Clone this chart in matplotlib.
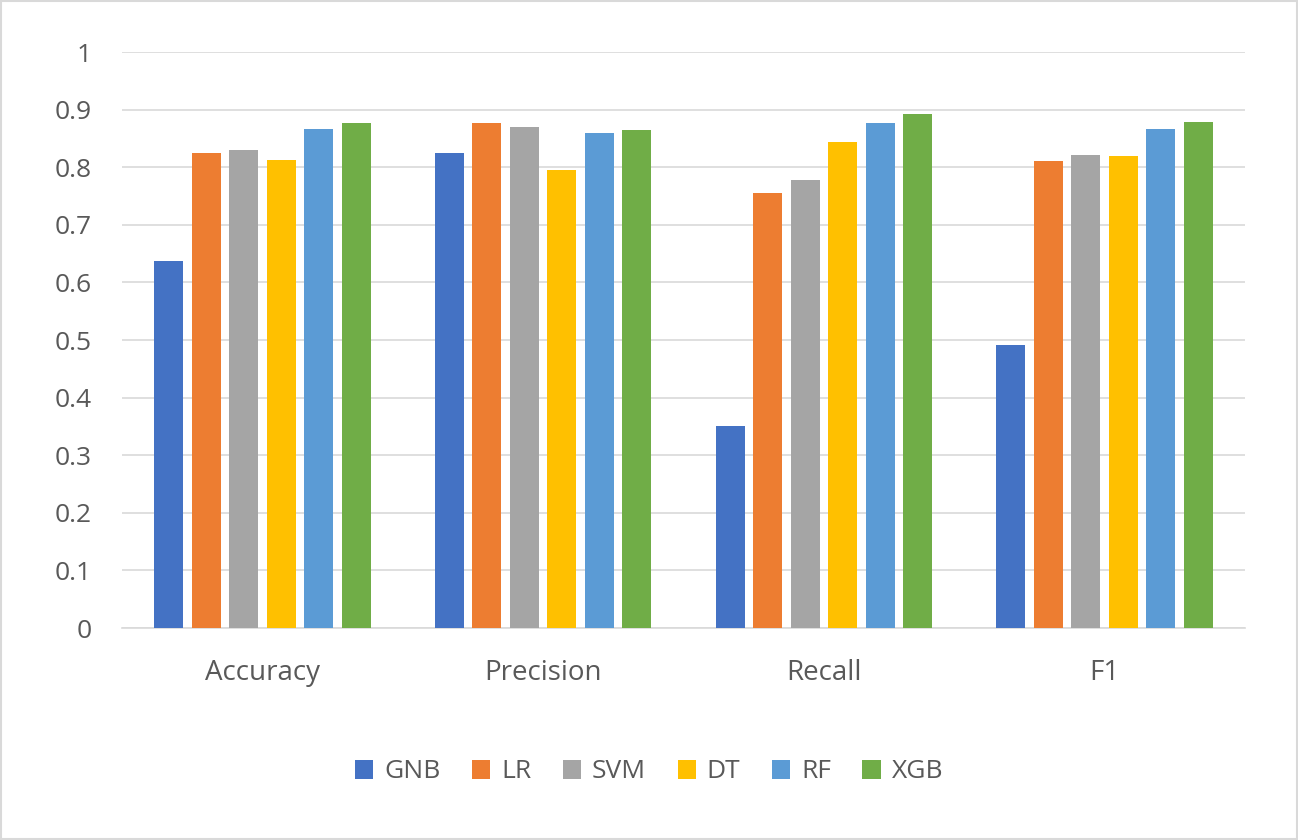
import matplotlib
matplotlib.use("Agg")
import matplotlib.pyplot as plt
import numpy as np

categories = ["Accuracy", "Precision", "Recall", "F1"]
models = ["GNB", "LR", "SVM", "DT", "RF", "XGB"]
GNB = [0.637, 0.825, 0.351, 0.491]
LR = [0.825, 0.877, 0.755, 0.811]
SVM = [0.830, 0.870, 0.778, 0.821]
DT = [0.812, 0.795, 0.844, 0.819]
RF = [0.866, 0.859, 0.877, 0.866]
XGB = [0.877, 0.865, 0.892, 0.878]
series = [GNB, LR, SVM, DT, RF, XGB]
colors = ["#4472C4", "#ED7D31", "#A5A5A5", "#FFC000", "#5B9BD5", "#70AD47"]
yticks = [0, 0.1, 0.2, 0.3, 0.4, 0.5, 0.6, 0.7, 0.8, 0.9, 1]
ylabels = ["0", "0.1", "0.2", "0.3", "0.4", "0.5", "0.6", "0.7", "0.8", "0.9", "1"]

plt.rcParams['font.family'] = ['Open Sans', 'DejaVu Sans']
fig = plt.figure(figsize=(12.98, 8.4), dpi=100)
ax = fig.add_axes([122/1298, 1-628/840, 1123/1298, 576/840])
x = np.arange(len(categories))
slot = 0.1335
w = 0.103
for i, (m, s, c) in enumerate(zip(models, series, colors)):
    ax.bar(x + (i - 2.5) * slot, s, w, color=c, label=m, zorder=3)
ax.set_xlim(-0.5, 3.5)
ax.set_ylim(0, 1)
ax.set_yticks(yticks)
ax.set_yticklabels(ylabels)
ax.set_xticks(x)
ax.set_xticklabels(categories)
ax.grid(axis='y', color='#D9D9D9', linewidth=1.2, zorder=0)
for sp in ['top', 'right', 'left']:
    ax.spines[sp].set_visible(False)
ax.spines['bottom'].set_color('#D9D9D9')
ax.spines['bottom'].set_linewidth(1.2)
ax.tick_params(axis='both', length=0, labelsize=19, colors='#595959')
ax.tick_params(axis='x', pad=22, labelsize=20)
ax.tick_params(axis='y', pad=22)
fig.legend(loc='center', bbox_to_anchor=(0.5, 1-772/840), ncol=6, frameon=False,
           fontsize=19, handlelength=0.7, handleheight=0.7, columnspacing=1.2,
           handletextpad=0.4, labelcolor='#595959')
fig.patches.append(plt.Rectangle((0.001, 0.001), 0.998, 0.998, transform=fig.transFigure,
                                 fill=False, edgecolor='#D9D9D9', linewidth=1.5))
fig.savefig("out.png", dpi=100)
